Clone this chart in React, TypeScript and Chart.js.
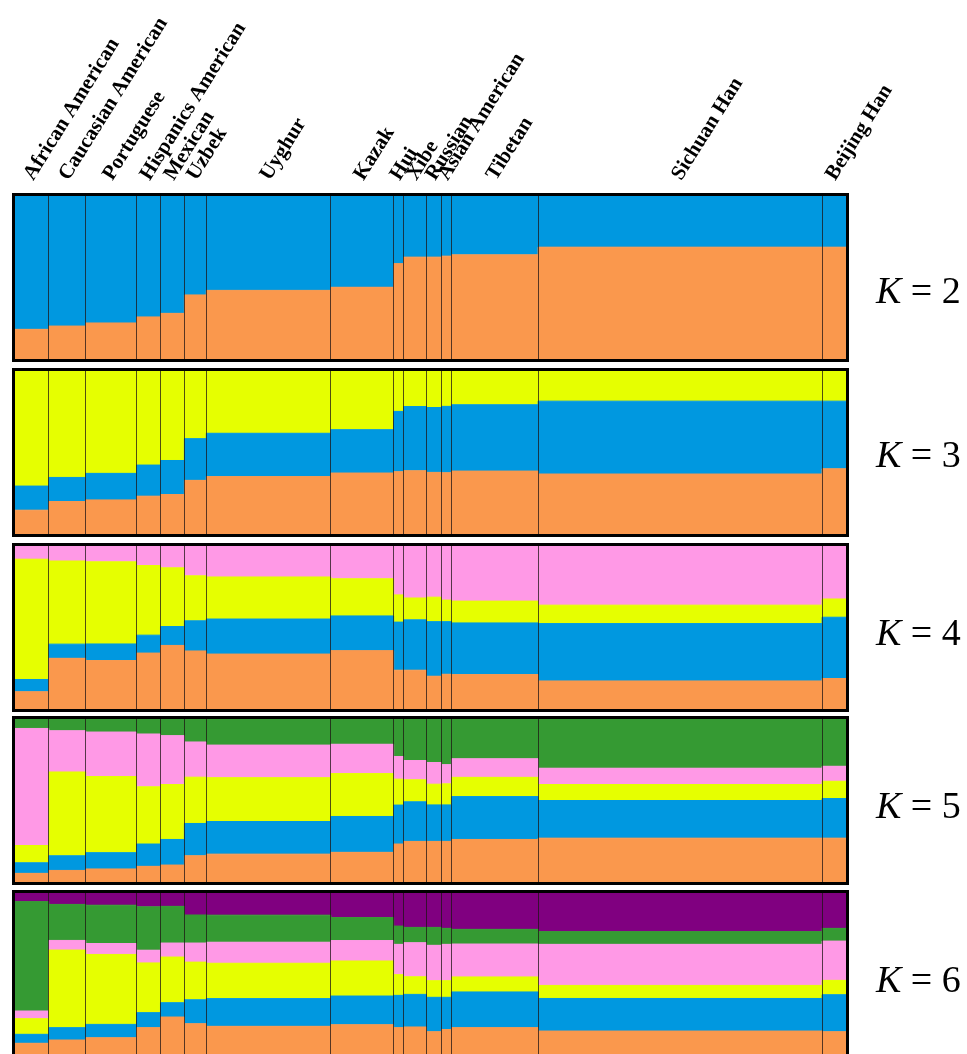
import React, { useEffect, useRef } from "react";
import { Chart, registerables } from "chart.js";

Chart.register(...registerables);

// ---------------- data ----------------
const populations = [
  "African American",
  "Caucasian American",
  "Portuguese",
  "Hispanics American",
  "Mexican",
  "Uzbek",
  "Uyghur",
  "Kazak",
  "Hui",
  "Xibe",
  "Russian",
  "Asian American",
  "Tibetan",
  "Sichuan Han",
  "Beijing Han",
];

// relative number of individuals per population (column widths)
const sampleSizes = [34, 37, 51, 24, 24, 22, 125, 63, 10, 23, 15, 10, 87, 285, 24];

const clusterColors = ["#FA984D", "#0098E0", "#E6FF00", "#FF99E6", "#359A33", "#800080"];

// K = 2  (bottom -> top)
const k2Orange = [0.182, 0.202, 0.221, 0.258, 0.28, 0.393, 0.421, 0.44, 0.585, 0.625, 0.625, 0.631, 0.639, 0.686, 0.686];
const k2Blue = [0.818, 0.798, 0.779, 0.742, 0.72, 0.607, 0.579, 0.56, 0.415, 0.375, 0.375, 0.369, 0.361, 0.314, 0.314];

// K = 3
const k3Orange = [0.146, 0.199, 0.209, 0.232, 0.242, 0.329, 0.352, 0.374, 0.382, 0.388, 0.378, 0.376, 0.386, 0.368, 0.4];
const k3Blue = [0.148, 0.148, 0.163, 0.191, 0.209, 0.256, 0.266, 0.266, 0.37, 0.394, 0.398, 0.407, 0.407, 0.447, 0.415];
const k3Yellow = [0.706, 0.653, 0.628, 0.577, 0.549, 0.415, 0.382, 0.36, 0.248, 0.218, 0.224, 0.217, 0.207, 0.185, 0.185];

// K = 4
const k4Orange = [0.106, 0.311, 0.297, 0.343, 0.39, 0.356, 0.337, 0.358, 0.238, 0.238, 0.201, 0.213, 0.211, 0.172, 0.187];
const k4Blue = [0.075, 0.087, 0.102, 0.11, 0.116, 0.185, 0.215, 0.213, 0.295, 0.309, 0.335, 0.323, 0.317, 0.352, 0.376];
const k4Yellow = [0.738, 0.51, 0.504, 0.427, 0.36, 0.276, 0.258, 0.228, 0.167, 0.134, 0.15, 0.132, 0.134, 0.113, 0.112];
const k4Pink = [0.081, 0.092, 0.097, 0.12, 0.134, 0.183, 0.19, 0.201, 0.3, 0.319, 0.314, 0.332, 0.338, 0.363, 0.325];

// K = 5
const k5Orange = [0.053, 0.071, 0.08, 0.096, 0.104, 0.161, 0.171, 0.182, 0.233, 0.249, 0.249, 0.249, 0.261, 0.269, 0.269];
const k5Blue = [0.065, 0.09, 0.1, 0.137, 0.157, 0.198, 0.2, 0.22, 0.239, 0.243, 0.224, 0.224, 0.263, 0.231, 0.243];
const k5Yellow = [0.106, 0.514, 0.467, 0.351, 0.337, 0.284, 0.269, 0.263, 0.159, 0.135, 0.127, 0.129, 0.118, 0.098, 0.106];
const k5Pink = [0.718, 0.253, 0.273, 0.324, 0.3, 0.216, 0.2, 0.18, 0.139, 0.118, 0.133, 0.118, 0.114, 0.1, 0.092];
const k5Green = [0.058, 0.072, 0.08, 0.092, 0.102, 0.141, 0.16, 0.155, 0.23, 0.255, 0.267, 0.28, 0.244, 0.302, 0.29];

// K = 6
const k6Orange = [0.078, 0.098, 0.112, 0.174, 0.239, 0.198, 0.182, 0.192, 0.174, 0.178, 0.149, 0.162, 0.174, 0.153, 0.149];
const k6Blue = [0.055, 0.076, 0.082, 0.092, 0.088, 0.147, 0.17, 0.176, 0.198, 0.2, 0.211, 0.198, 0.219, 0.2, 0.227];
const k6Yellow = [0.096, 0.476, 0.429, 0.305, 0.28, 0.231, 0.217, 0.215, 0.127, 0.108, 0.102, 0.102, 0.092, 0.08, 0.088];
const k6Pink = [0.047, 0.059, 0.067, 0.078, 0.086, 0.117, 0.129, 0.125, 0.186, 0.209, 0.217, 0.223, 0.202, 0.252, 0.241];
const k6Green = [0.671, 0.221, 0.235, 0.266, 0.225, 0.172, 0.166, 0.141, 0.112, 0.094, 0.11, 0.098, 0.09, 0.078, 0.078];
const k6Purple = [0.053, 0.07, 0.075, 0.085, 0.082, 0.135, 0.136, 0.151, 0.203, 0.211, 0.211, 0.217, 0.223, 0.237, 0.217];

const panels = [
  { k: 2, series: [k2Orange, k2Blue] },
  { k: 3, series: [k3Orange, k3Blue, k3Yellow] },
  { k: 4, series: [k4Orange, k4Blue, k4Yellow, k4Pink] },
  { k: 5, series: [k5Orange, k5Blue, k5Yellow, k5Pink, k5Green] },
  { k: 6, series: [k6Orange, k6Blue, k6Yellow, k6Pink, k6Green, k6Purple] },
];

// ---------------- layout ----------------
const PAGE_W = 967;
const PLOT_LEFT = 15;
const PLOT_RIGHT = 846;
const PANEL_TOPS = [196, 371, 546, 719, 893];
const PANEL_H = 163;
const PAD = 4;
const K_LABEL_Y = [290, 454, 632, 805, 979];

const starts: number[] = [];
{
  let acc = 0;
  for (const s of sampleSizes) {
    starts.push(acc);
    acc += s;
  }
}
const total = sampleSizes.reduce((a, b) => a + b, 0);
const boundaries = starts.slice(1);
const centers = starts.map((s, i) => s + sampleSizes[i] / 2);

const framePlugin = {
  id: "frame",
  afterDraw(chart: any) {
    const { ctx, chartArea: a } = chart;
    ctx.save();
    ctx.strokeStyle = "#000";
    ctx.lineWidth = 3;
    ctx.strokeRect(a.left - 1.5, a.top - 1.5, a.right - a.left + 3, a.bottom - a.top + 3);
    ctx.restore();
  },
};

function Panel({ series, top, showLabels }: { series: number[][]; top: number; showLabels: boolean }) {
  const ref = useRef<HTMLCanvasElement | null>(null);
  const canvasTop = showLabels ? 0 : top - PAD;
  const h = showLabels ? top + PANEL_H + PAD : PANEL_H + 2 * PAD;

  useEffect(() => {
    if (!ref.current) return;
    const datasets = series.map((vals, j) => ({
      data: [
        ...vals.map((v, i) => ({ x: starts[i], y: v })),
        { x: total, y: vals[vals.length - 1] },
      ],
      backgroundColor: clusterColors[j],
      borderColor: clusterColors[j],
      borderWidth: 1,
      pointRadius: 0,
      pointHoverRadius: 0,
      stepped: true,
      fill: j === 0 ? "origin" : "-1",
      xAxisID: "x",
      yAxisID: "y",
    }));

    const scales: any = {
      x: {
        type: "linear",
        position: "bottom",
        min: 0,
        max: total,
        afterBuildTicks: (s: any) => {
          s.ticks = boundaries.map((v) => ({ value: v }));
        },
        ticks: { display: false },
        grid: { display: true, color: "rgba(30,20,20,0.75)", lineWidth: 1, drawTicks: false, z: 1 },
        border: { display: false },
      },
      y: { type: "linear", stacked: true, min: 0, max: 1, display: false },
    };
    if (showLabels) {
      scales.xTop = {
        type: "linear",
        position: "top",
        min: 0,
        max: total,
        afterBuildTicks: (s: any) => {
          s.ticks = centers.map((v) => ({ value: v }));
        },
        afterFit: (s: any) => {
          s.height = top;
          s.paddingLeft = 0;
          s.paddingRight = 0;
          s.paddingTop = 0;
          s.paddingBottom = 0;
        },
        grid: { display: false, drawTicks: false },
        border: { display: false },
        ticks: {
          autoSkip: false,
          minRotation: 58,
          maxRotation: 58,
          padding: 11,
          labelOffset: 18,
          color: "#000",
          font: { family: "'Liberation Serif', 'Times New Roman', serif", size: 21, weight: "bold" },
          callback: (_v: any, i: number) => populations[i],
        },
      };
    }

    const chart = new Chart(ref.current, {
      type: "line",
      data: { datasets } as any,
      options: {
        animation: false,
        responsive: false,
        devicePixelRatio: 1,
        events: [],
        layout: {
          padding: { left: PLOT_LEFT, right: PAGE_W - PLOT_RIGHT, top: showLabels ? 0 : PAD, bottom: PAD },
        },
        plugins: {
          legend: { display: false },
          tooltip: { enabled: false },
          filler: { propagate: false },
        },
        scales,
      } as any,
      plugins: [framePlugin],
    });
    return () => chart.destroy();
  }, []);

  return (
    <canvas
      ref={ref}
      width={PAGE_W}
      height={h}
      style={{ position: "absolute", left: 0, top: canvasTop, width: PAGE_W, height: h }}
    />
  );
}

export default function App() {
  return (
    <div
      style={{
        position: "fixed",
        left: 0,
        top: 0,
        width: PAGE_W,
        height: 1054,
        overflow: "hidden",
        background: "#fff",
      }}
    >
      {panels.map((p, i) => (
        <Panel key={p.k} series={p.series} top={PANEL_TOPS[i]} showLabels={i === 0} />
      ))}
      {panels.map((p, i) => (
        <div
          key={"k" + p.k}
          style={{
            position: "absolute",
            left: 876,
            top: K_LABEL_Y[i] - 22,
            height: 44,
            lineHeight: "44px",
            fontFamily: "'Liberation Serif', 'Times New Roman', serif",
            fontSize: 38,
            whiteSpace: "pre",
            color: "#000",
          }}
        >
          <i>K</i> = {p.k}
        </div>
      ))}
    </div>
  );
}
